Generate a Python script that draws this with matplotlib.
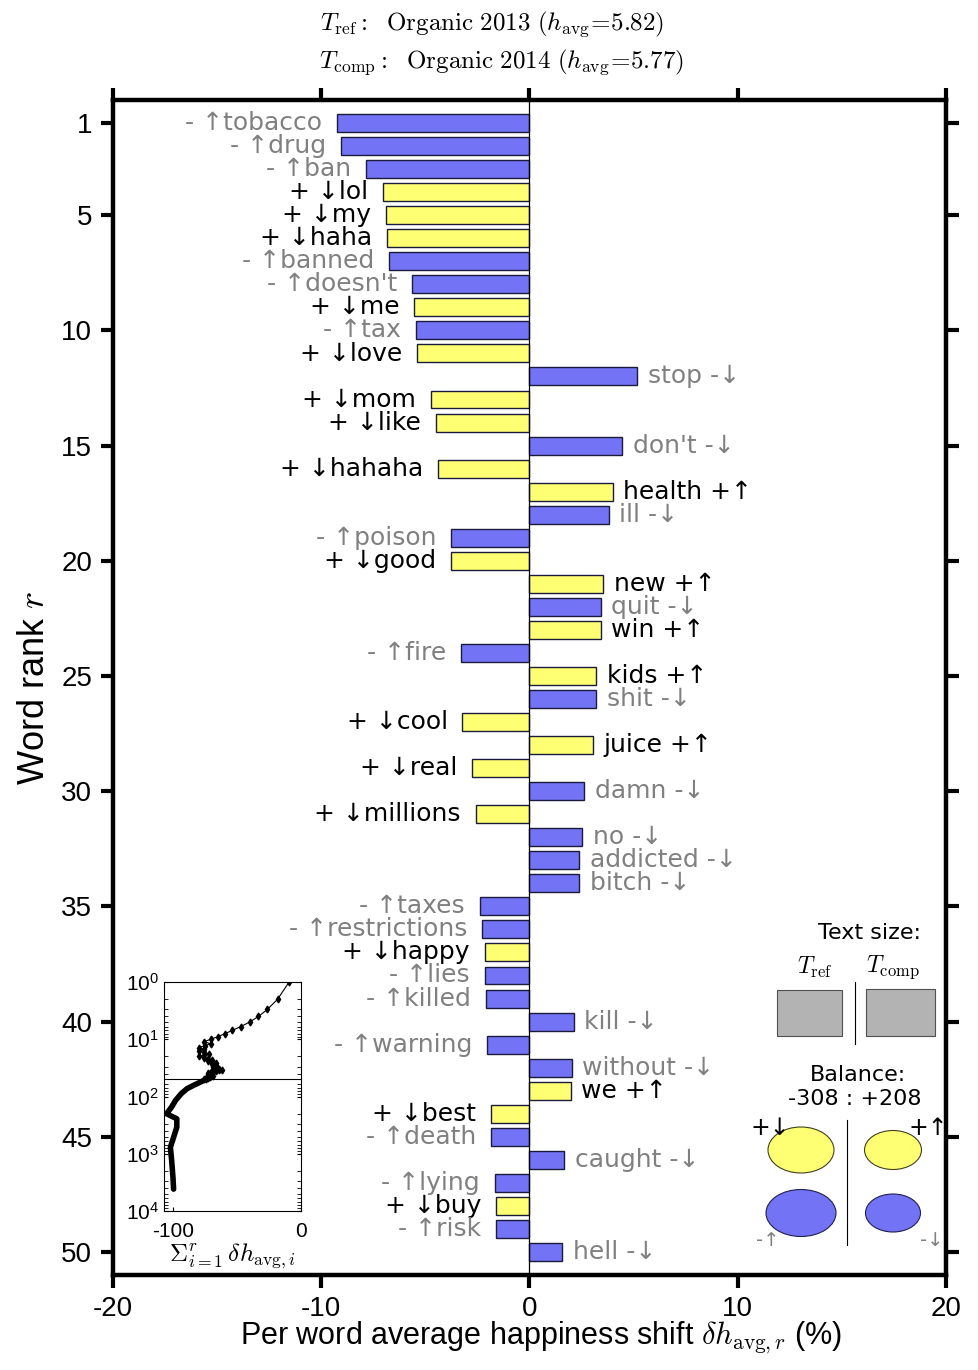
import matplotlib
matplotlib.use("Agg")
import matplotlib.pyplot as plt
from matplotlib.patches import Ellipse, Rectangle
import numpy as np

plt.rcParams['mathtext.fontset'] = 'cm'
plt.rcParams['axes.unicode_minus'] = False

# word shift data
words = ["tobacco", "drug", "ban", "lol", "my", "haha", "banned", "doesn't", "me", "tax",
         "love", "stop", "mom", "like", "don't", "hahaha", "health", "ill", "poison", "good",
         "new", "quit", "win", "fire", "kids", "shit", "cool", "juice", "real", "damn",
         "millions", "no", "addicted", "bitch", "taxes", "restrictions", "happy", "lies", "killed", "kill",
         "warning", "without", "we", "best", "death", "caught", "lying", "buy", "risk", "hell"]
shifts = [-9.25, -9.06, -7.86, -7.04, -6.90, -6.85, -6.75, -5.65, -5.55, -5.46,
          -5.41, 5.17, -4.74, -4.50, 4.45, -4.40, 3.99, 3.80, -3.78, -3.78,
          3.55, 3.41, 3.41, -3.31, 3.20, 3.20, -3.22, 3.07, -2.78, 2.64,
          -2.59, 2.54, 2.40, 2.40, -2.40, -2.30, -2.16, -2.16, -2.11, 2.13,
          -2.06, 2.02, 1.97, -1.87, -1.87, 1.68, -1.68, -1.63, -1.63, 1.58]
# '+' = positive word (yellow), '-' = negative word (blue)
kinds = ['-', '-', '-', '+', '+', '+', '-', '-', '+', '-',
         '+', '-', '+', '+', '-', '+', '+', '-', '-', '+',
         '+', '-', '+', '-', '+', '-', '+', '+', '+', '-',
         '+', '-', '-', '-', '-', '-', '+', '-', '-', '-',
         '-', '-', '+', '+', '-', '-', '-', '+', '-', '-']
ranks = np.arange(1, len(words) + 1)

# cumulative curve beyond rank 50
tail_ranks = [50, 64, 73, 89, 117, 152, 200, 245, 344, 515, 770, 1330, 2600, 4150]
tail_sums = [-74, -84, -89, -93.5, -98, -101, -105, -97, -97, -99.5, -102, -101, -100, -99.5]

title_ref = r"$T_{\rm ref}\mathrm{:\ \ Organic\ 2013\ (}h_{\rm avg}\!=\!\mathrm{5.82)}$"
title_comp = r"$T_{\rm comp}\mathrm{:\ \ Organic\ 2014\ (}h_{\rm avg}\!=\!\mathrm{5.77)}$"
balance = "-308 : +208"

blue = '#7373f5'
yellow = '#ffff73'
gray = '#808080'

W, H = 979, 1370
fig = plt.figure(figsize=(W / 100, H / 100), dpi=100)
ax = fig.add_axes([113 / W, 1 - 1275 / H, 833 / W, 1175 / H])

colors = [yellow if k == '+' else blue for k in kinds]
ax.barh(ranks, shifts, height=0.78, color=colors, edgecolor='#1a1a3a', linewidth=1, zorder=2)
ax.axvline(0, color='black', lw=0.9, zorder=3)

for r, w, s, k in zip(ranks, words, shifts, kinds):
    tc = 'black' if k == '+' else gray
    if s < 0:
        lab = ("+ \u2193" if k == '+' else "- \u2191") + w
        ax.text(s - 0.7, r, lab, ha='right', va='center', fontsize=18, color=tc,
                family=['DejaVu Sans'], zorder=4)
    else:
        lab = w + (" +\u2191" if k == '+' else " -\u2193")
        ax.text(s + 0.5, r, lab, ha='left', va='center', fontsize=18, color=tc,
                family=['DejaVu Sans'], zorder=4)

ax.set_xlim(-20, 20)
ax.set_ylim(51, 0)
ax.set_xticks([-20, -10, 0, 10, 20])
ax.set_yticks([1, 5, 10, 15, 20, 25, 30, 35, 40, 45, 50])
tick_font = ['Liberation Sans', 'DejaVu Sans']
for lbl in ax.get_xticklabels() + ax.get_yticklabels():
    lbl.set_family(tick_font)
    lbl.set_fontsize(20)
ax.tick_params(direction='out', length=9, width=3, top=True, right=True, pad=6)
for sp in ax.spines.values():
    sp.set_linewidth(3.2)

ax.set_xlabel(r"Per word average happiness shift $\delta h_{{\rm avg},r}$ (%)",
              fontsize=22, family=tick_font, va='center')
ax.xaxis.set_label_coords(0.514, -0.054)
ax.set_ylabel(r"Word rank $r$", fontsize=26, family=tick_font, va='center')
ax.yaxis.set_label_coords(-0.094, 0.5)

fig.text(492 / W, 1 - 24 / H, title_ref, ha='center', va='center', fontsize=18)
fig.text(502 / W, 1 - 62 / H, title_comp, ha='center', va='center', fontsize=18)

# inset: cumulative sum of shifts
ax_in = fig.add_axes([164 / W, 1 - 1211 / H, 137 / W, 229 / H])
cum = np.cumsum(shifts)
ax_in.plot(cum, ranks, color='black', lw=0.8, marker='d', ms=3.5)
ax_in.plot(tail_sums, tail_ranks, color='black', lw=4, solid_capstyle='round')
ax_in.axhline(50, color='black', lw=0.8)
ax_in.set_yscale('log')
ax_in.set_ylim(1e4, 1)
ax_in.set_xlim(-107, 0)
ax_in.set_xticks([-100, 0])
ax_in.set_yticks([1, 10, 100, 1000, 10000])
ax_in.tick_params(direction='in', which='both', left=True, right=True, labelsize=15, length=3)
ax_in.tick_params(axis='x', pad=8)
for lbl in ax_in.get_xticklabels() + ax_in.get_yticklabels():
    lbl.set_family(tick_font)
for sp in ax_in.spines.values():
    sp.set_linewidth(0.8)
ax_in.set_xlabel(r"$\Sigma_{i=1}^{r}\,\delta h_{{\rm avg},i}$", fontsize=18, labelpad=0)

# legend panel on the right
ov = fig.add_axes([0, 0, 1, 1], zorder=5)
ov.set_xlim(0, W)
ov.set_ylim(H, 0)
ov.axis('off')
lf = ['DejaVu Sans']
ov.text(870, 933, "Text size:", ha='center', va='center', fontsize=16, family=lf)
ov.text(815, 967, r"$T_{\rm ref}$", ha='center', va='center', fontsize=17)
ov.text(893, 967, r"$T_{\rm comp}$", ha='center', va='center', fontsize=17)
ov.add_patch(Rectangle((777, 990), 65, 46, facecolor='#b3b3b3', edgecolor='#505050', lw=0.8))
ov.add_patch(Rectangle((866, 989), 69, 47, facecolor='#b3b3b3', edgecolor='#505050', lw=0.8))
ov.plot([855, 855], [982, 1044], color='black', lw=0.8)
ov.text(858, 1075, "Balance:", ha='center', va='center', fontsize=16, family=lf)
ov.text(855, 1099, balance, ha='center', va='center', fontsize=16, family=lf)
ov.add_patch(Ellipse((801, 1150), 66, 46, facecolor=yellow, edgecolor='#404020', lw=0.8))
ov.add_patch(Ellipse((893, 1150), 57, 39, facecolor=yellow, edgecolor='#404020', lw=0.8))
ov.add_patch(Ellipse((801, 1213), 70, 47, facecolor=blue, edgecolor='#202050', lw=0.8))
ov.add_patch(Ellipse((893, 1213), 55, 38, facecolor=blue, edgecolor='#202050', lw=0.8))
ov.plot([847, 847], [1120, 1245], color='black', lw=0.8)
ov.text(770, 1128, "+\u2193", ha='center', va='center', fontsize=17, family=lf)
ov.text(928, 1128, "+\u2191", ha='center', va='center', fontsize=17, family=lf)
ov.text(768, 1240, "-\u2191", ha='center', va='center', fontsize=14, color=gray, family=lf)
ov.text(932, 1240, "-\u2193", ha='center', va='center', fontsize=14, color=gray, family=lf)

fig.savefig("out.png", dpi=100)
